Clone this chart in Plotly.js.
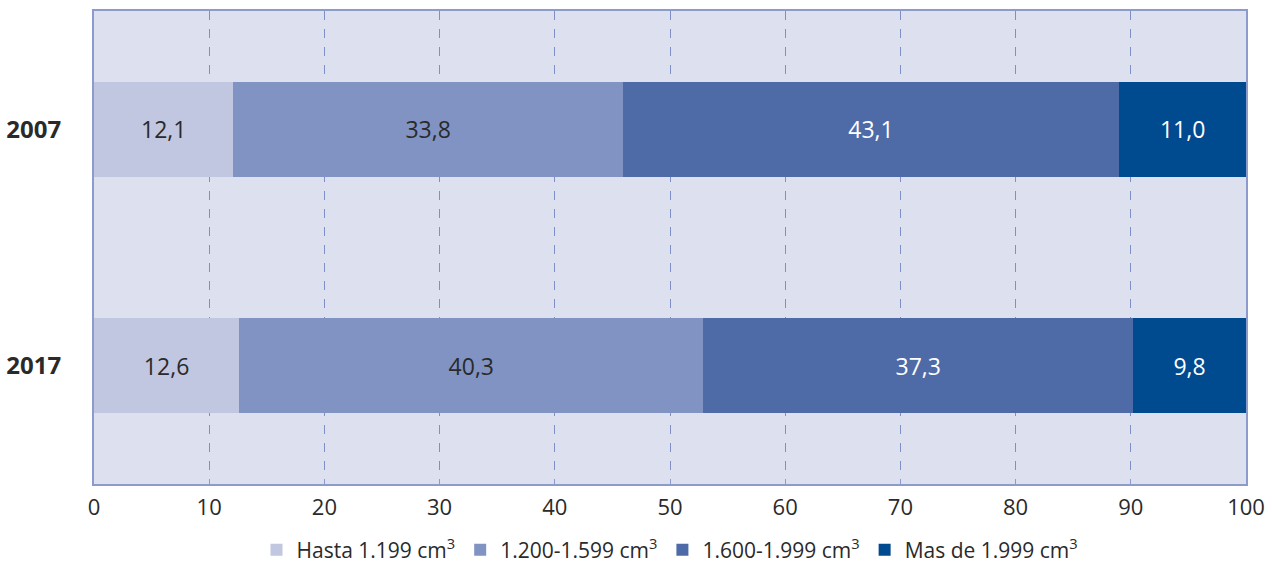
<!DOCTYPE html>
<html><head><meta charset="utf-8">
<script src="https://cdn.plot.ly/plotly-3.0.1.min.js"></script>
<style>html,body{margin:0;padding:0;background:#fff}#chart{width:1273px;height:563px}</style>
</head><body><div id="chart"></div>
<script>
const years = ['2007', '2017'];
const seriesNames = ['Hasta 1.199 cm<sup>3</sup>', '1.200-1.599 cm<sup>3</sup>', '1.600-1.999 cm<sup>3</sup>', 'Mas de 1.999 cm<sup>3</sup>'];
const hasta1199 = [12.1, 12.6];
const de1200a1599 = [33.8, 40.3];
const de1600a1999 = [43.1, 37.3];
const masDe1999 = [11.0, 9.8];
const xTicks = [0, 10, 20, 30, 40, 50, 60, 70, 80, 90, 100];

const colors = ['#c1c6e1', '#8193c2', '#4e6ba8', '#004a8f'];
const textColors = ['#2a2a2a', '#2a2a2a', '#ffffff', '#ffffff'];
const values = [hasta1199, de1200a1599, de1600a1999, masDe1999];

const fmt = v => v.toFixed(1).replace('.', ',');

const traces = values.map((vals, i) => ({
  type: 'bar',
  orientation: 'h',
  name: seriesNames[i],
  y: years,
  x: vals,
  width: 0.4,
  marker: {color: colors[i], line: {width: 0}},
  text: vals.map(fmt),
  textposition: 'inside',
  insidetextanchor: 'middle',
  textfont: {color: textColors[i], size: 23, family: 'Open Sans, Noto Sans, sans-serif'},
  hoverinfo: 'skip'
}));

const layout = {
  barmode: 'stack',
  width: 1273, height: 563,
  margin: {l: 94, r: 27, t: 11, b: 79, autoexpand: false},
  paper_bgcolor: '#ffffff',
  plot_bgcolor: '#dde0ef',
  font: {family: 'Open Sans, Noto Sans, sans-serif', color: '#2a2a2a'},
  showlegend: true,
  legend: {
    orientation: 'h', x: 0.5, xanchor: 'center', y: -0.14, yanchor: 'middle',
    font: {size: 21, color: '#2a2a2a'}, traceorder: 'normal',
    itemwidth: 30, itemsizing: 'constant'
  },
  xaxis: {
    range: [0, 100], tickvals: xTicks, ticktext: xTicks.map(String),
    showgrid: true, gridcolor: '#7f8fc8', griddash: 'dash', gridwidth: 1,
    zeroline: false, showline: true, linecolor: '#8d9bcc', linewidth: 2, mirror: true,
    ticks: 'inside', ticklen: 5, tickcolor: '#8d9bcc', ticklabelstandoff: 3,
    tickfont: {size: 22, color: '#2a2a2a'}, fixedrange: true
  },
  yaxis: {
    type: 'category', categoryorder: 'array', categoryarray: years,
    autorange: 'reversed', range: [1.5, -0.5],
    showgrid: false, zeroline: false, showline: true, linecolor: '#8d9bcc', linewidth: 2, mirror: true,
    ticks: '', ticklabelstandoff: 26,
    tickfont: {size: 24, color: '#2a2a2a', family: 'Open Sans, Noto Sans, sans-serif', weight: 'bold'},
    fixedrange: true
  }
};

Plotly.newPlot('chart', traces, layout, {displayModeBar: false, staticPlot: true});
</script></body></html>
